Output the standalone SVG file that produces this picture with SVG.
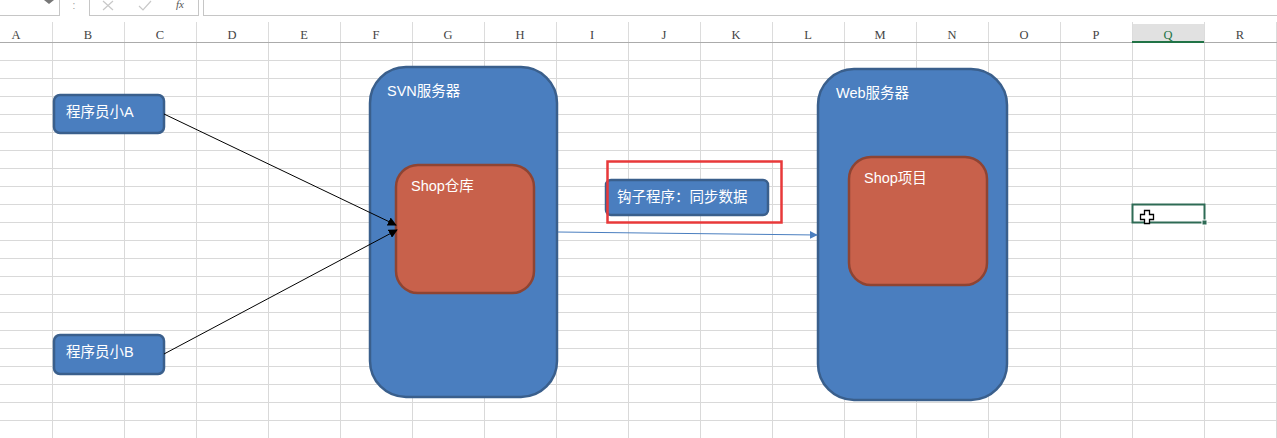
<svg xmlns="http://www.w3.org/2000/svg" width="1277" height="438" viewBox="0 0 1277 438">
<defs>
<style>
.grid line{stroke:#d9d9d9;stroke-width:1}
.hdr{font-family:"Liberation Serif","DejaVu Serif",serif;font-size:12.5px;fill:#444;text-anchor:middle}
.lbl{font-family:"Liberation Sans","Noto Sans CJK SC",sans-serif;font-size:14.5px;fill:#ffffff}
.blue{fill:#4a7ebf;stroke:#3a5f8c;stroke-width:2.5}
.red{fill:#c8614b;stroke:#8e4433;stroke-width:2.5}
</style>
<marker id="ab" viewBox="0 0 10 10" refX="9" refY="5" markerWidth="9" markerHeight="9" markerUnits="userSpaceOnUse" orient="auto"><path d="M0,0 L10,5 L0,10 z" fill="#000"/></marker>
<marker id="ablue" viewBox="0 0 10 10" refX="9" refY="5" markerWidth="8" markerHeight="8" markerUnits="userSpaceOnUse" orient="auto"><path d="M0,0 L10,5 L0,10 z" fill="#4a7ebf"/></marker>
</defs>
<rect width="1277" height="438" fill="#ffffff"/>
<g id="toolbar">
<line x1="0" y1="15.5" x2="59" y2="15.5" stroke="#c6c6c6"/>
<line x1="59.5" y1="0" x2="59.5" y2="16" stroke="#c6c6c6"/>
<path d="M44,0 L54,0 L49,4 z" fill="#777"/>
<text x="74" y="9" font-family="Liberation Sans,sans-serif" font-size="10" fill="#999" text-anchor="middle">:</text>
<rect x="89.5" y="-1" width="109" height="16.5" fill="none" stroke="#c6c6c6"/>
<path d="M103,1 L113,10 M113,1 L103,10" stroke="#c8c8c8" stroke-width="1.2" fill="none"/>
<path d="M139,6 L143,10 L151,1" stroke="#c8c8c8" stroke-width="1.2" fill="none"/>
<text x="180" y="8" font-family="Liberation Serif,serif" font-style="italic" font-size="11" fill="#555" text-anchor="middle">fx</text>
<rect x="203.5" y="-1" width="1080" height="16.5" fill="none" stroke="#c6c6c6"/>
</g>
<g id="header">
<rect x="1132" y="24" width="72" height="18" fill="#e1e1e1"/>
<g stroke="#dcdcdc">
<line x1="52.5" y1="22" x2="52.5" y2="42"/><line x1="124.5" y1="22" x2="124.5" y2="42"/><line x1="196.5" y1="22" x2="196.5" y2="42"/><line x1="268.5" y1="22" x2="268.5" y2="42"/><line x1="340.5" y1="22" x2="340.5" y2="42"/><line x1="412.5" y1="22" x2="412.5" y2="42"/><line x1="484.5" y1="22" x2="484.5" y2="42"/><line x1="556.5" y1="22" x2="556.5" y2="42"/><line x1="628.5" y1="22" x2="628.5" y2="42"/><line x1="700.5" y1="22" x2="700.5" y2="42"/><line x1="772.5" y1="22" x2="772.5" y2="42"/><line x1="844.5" y1="22" x2="844.5" y2="42"/><line x1="916.5" y1="22" x2="916.5" y2="42"/><line x1="988.5" y1="22" x2="988.5" y2="42"/><line x1="1060.5" y1="22" x2="1060.5" y2="42"/><line x1="1132.5" y1="22" x2="1132.5" y2="42"/><line x1="1204.5" y1="22" x2="1204.5" y2="42"/><line x1="1276.5" y1="22" x2="1276.5" y2="42"/>
</g>
<line x1="0" y1="42.5" x2="1277" y2="42.5" stroke="#ababab"/>
<line x1="1132" y1="42" x2="1204" y2="42" stroke="#217346" stroke-width="2"/>
<text class="hdr" x="16" y="39">A</text><text class="hdr" x="88" y="39">B</text><text class="hdr" x="160" y="39">C</text><text class="hdr" x="232" y="39">D</text><text class="hdr" x="304" y="39">E</text><text class="hdr" x="376" y="39">F</text><text class="hdr" x="448" y="39">G</text><text class="hdr" x="520" y="39">H</text><text class="hdr" x="592" y="39">I</text><text class="hdr" x="664" y="39">J</text><text class="hdr" x="736" y="39">K</text><text class="hdr" x="808" y="39">L</text><text class="hdr" x="880" y="39">M</text><text class="hdr" x="952" y="39">N</text><text class="hdr" x="1024" y="39">O</text><text class="hdr" x="1096" y="39">P</text><text class="hdr" x="1168" y="39" style="fill:#217346">Q</text><text class="hdr" x="1240" y="39">R</text>
</g>
<g class="grid" id="grid">
<line x1="52.5" y1="43" x2="52.5" y2="438"/><line x1="124.5" y1="43" x2="124.5" y2="438"/><line x1="196.5" y1="43" x2="196.5" y2="438"/><line x1="268.5" y1="43" x2="268.5" y2="438"/><line x1="340.5" y1="43" x2="340.5" y2="438"/><line x1="412.5" y1="43" x2="412.5" y2="438"/><line x1="484.5" y1="43" x2="484.5" y2="438"/><line x1="556.5" y1="43" x2="556.5" y2="438"/><line x1="628.5" y1="43" x2="628.5" y2="438"/><line x1="700.5" y1="43" x2="700.5" y2="438"/><line x1="772.5" y1="43" x2="772.5" y2="438"/><line x1="844.5" y1="43" x2="844.5" y2="438"/><line x1="916.5" y1="43" x2="916.5" y2="438"/><line x1="988.5" y1="43" x2="988.5" y2="438"/><line x1="1060.5" y1="43" x2="1060.5" y2="438"/><line x1="1132.5" y1="43" x2="1132.5" y2="438"/><line x1="1204.5" y1="43" x2="1204.5" y2="438"/><line x1="1276.5" y1="43" x2="1276.5" y2="438"/>
<line x1="0" y1="60.5" x2="1277" y2="60.5"/><line x1="0" y1="78.5" x2="1277" y2="78.5"/><line x1="0" y1="96.5" x2="1277" y2="96.5"/><line x1="0" y1="114.5" x2="1277" y2="114.5"/><line x1="0" y1="132.5" x2="1277" y2="132.5"/><line x1="0" y1="150.5" x2="1277" y2="150.5"/><line x1="0" y1="168.5" x2="1277" y2="168.5"/><line x1="0" y1="186.5" x2="1277" y2="186.5"/><line x1="0" y1="204.5" x2="1277" y2="204.5"/><line x1="0" y1="222.5" x2="1277" y2="222.5"/><line x1="0" y1="240.5" x2="1277" y2="240.5"/><line x1="0" y1="258.5" x2="1277" y2="258.5"/><line x1="0" y1="276.5" x2="1277" y2="276.5"/><line x1="0" y1="294.5" x2="1277" y2="294.5"/><line x1="0" y1="312.5" x2="1277" y2="312.5"/><line x1="0" y1="330.5" x2="1277" y2="330.5"/><line x1="0" y1="348.5" x2="1277" y2="348.5"/><line x1="0" y1="366.5" x2="1277" y2="366.5"/><line x1="0" y1="384.5" x2="1277" y2="384.5"/><line x1="0" y1="402.5" x2="1277" y2="402.5"/><line x1="0" y1="420.5" x2="1277" y2="420.5"/>
</g>
<g id="devA"><rect class="blue" x="54" y="95" width="110" height="38" rx="6"/><text class="lbl" x="66" y="117">程序员小A</text></g>
<g id="devB"><rect class="blue" x="54" y="335" width="110" height="39" rx="6"/><text class="lbl" x="66" y="357">程序员小B</text></g>
<g id="svn"><rect class="blue" x="370" y="67" width="187" height="330" rx="36"/><text class="lbl" x="387" y="96">SVN服务器</text></g>
<g id="shopRepo"><rect class="red" x="396" y="165" width="138" height="128" rx="22"/><text class="lbl" x="411" y="191">Shop仓库</text></g>
<g id="web"><rect class="blue" x="818" y="69" width="189" height="331" rx="36"/><text class="lbl" x="836" y="98">Web服务器</text></g>
<g id="shopProject"><rect class="red" x="849" y="157" width="138" height="128" rx="22"/><text class="lbl" x="864" y="183">Shop项目</text></g>
<g id="hook"><rect class="blue" x="606" y="180" width="162" height="35" rx="5"/><text class="lbl" x="617" y="202">钩子程序：同步数据</text></g>
<g id="highlight"><rect x="607.5" y="161.5" width="174" height="61" fill="none" stroke="#e8393a" stroke-width="2.5"/></g>
<g id="connectors" fill="none">
<line x1="164" y1="114" x2="396" y2="225" stroke="#000" stroke-width="1" marker-end="url(#ab)"/>
<line x1="164" y1="354" x2="397" y2="230" stroke="#000" stroke-width="1" marker-end="url(#ab)"/>
<line x1="558" y1="232" x2="817" y2="235" stroke="#4a7ebf" stroke-width="1" marker-end="url(#ablue)"/>
</g>
<g id="selection">
<rect x="1132.5" y="204.5" width="72" height="18" fill="none" stroke="#2e6b55" stroke-width="2"/>
<rect x="1202" y="220" width="5" height="5" fill="#2e6b55" stroke="#fff" stroke-width="1"/>
<path d="M1144.5,210.5 h5 v4 h4 v5 h-4 v4 h-5 v-4 h-4 v-5 h4 z" fill="#fff" stroke="#000" stroke-width="1.3"/>
</g>
</svg>
